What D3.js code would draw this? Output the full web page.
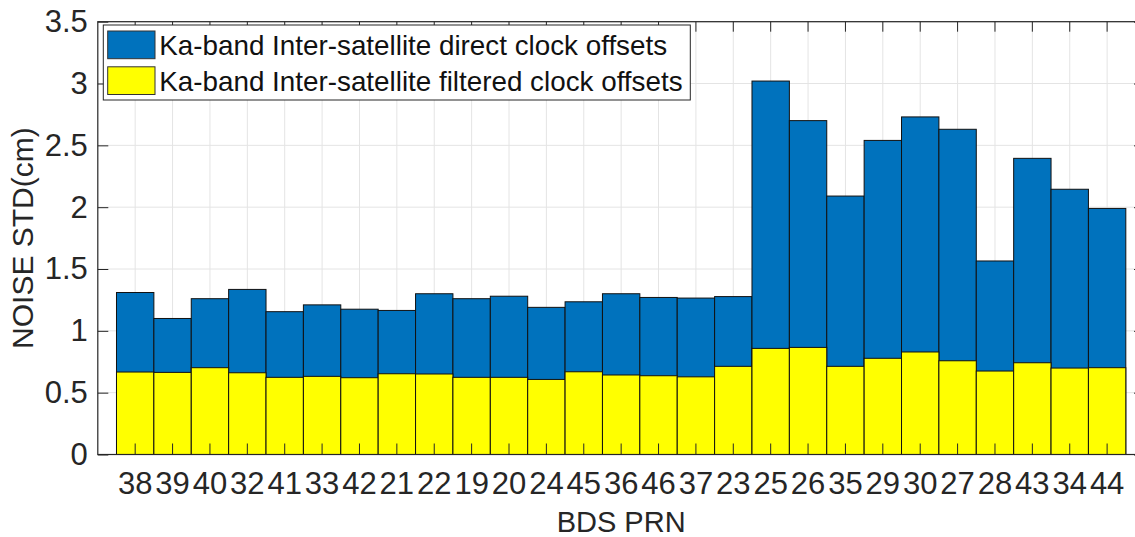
<!DOCTYPE html>
<html>
<head>
<meta charset="utf-8">
<script src="https://cdn.jsdelivr.net/npm/d3@7"></script>
<style>
  html, body { margin: 0; padding: 0; background: #fff; }
  svg { display: block; font-family: "Liberation Sans", Arial, Helvetica, sans-serif; }
</style>
</head>
<body>
<svg id="chart" width="1135" height="537"></svg>
<script>
// BDS satellites (PRN) in plotting order
const prns = ["38","39","40","32","41","33","42","21","22","19","20","24","45","36","46","37","23","25","26","35","29","30","27","28","43","34","44"];

// Noise STD (cm) of direct Ka-band inter-satellite clock offsets
const directStd = [1.31, 1.10, 1.26, 1.335, 1.155, 1.21, 1.175, 1.165, 1.30, 1.26, 1.28, 1.19, 1.235, 1.30, 1.27, 1.265, 1.277, 3.02, 2.70, 2.09, 2.54, 2.73, 2.63, 1.565, 2.395, 2.145, 1.99];

// Noise STD (cm) of filtered Ka-band inter-satellite clock offsets
const filteredStd = [0.667, 0.664, 0.702, 0.661, 0.624, 0.632, 0.621, 0.653, 0.651, 0.624, 0.624, 0.607, 0.669, 0.643, 0.637, 0.628, 0.713, 0.858, 0.866, 0.713, 0.778, 0.829, 0.758, 0.675, 0.742, 0.699, 0.702];

const yTicks = [0, 0.5, 1, 1.5, 2, 2.5, 3, 3.5];

const seriesNames = [
  "Ka-band Inter-satellite direct clock offsets",
  "Ka-band Inter-satellite filtered clock offsets"
];
const seriesColors = ["#0072BD", "#FFFF00"];

const svg = d3.select("#chart");
const plotLeft = 97.8, plotRight = 1144.5, plotTop = 21.7, plotBottom = 454.5;
const unit = (plotRight - plotLeft) / (prns.length + 1);
const axisColor = "#262626";

const x = d3.scaleBand()
  .domain(prns)
  .range([plotLeft + unit / 2, plotRight - unit / 2])
  .padding(0);

const y = d3.scaleLinear().domain([0, 3.5]).range([plotBottom, plotTop]);

// grid
const grid = svg.append("g");
grid.selectAll("line.vg").data(prns).join("line")
  .attr("x1", d => x(d) + x.bandwidth() / 2).attr("x2", d => x(d) + x.bandwidth() / 2)
  .attr("y1", plotTop).attr("y2", plotBottom)
  .attr("stroke", "#e4e4e4").attr("stroke-width", 1);
grid.selectAll("line.hg").data(yTicks).join("line")
  .attr("x1", plotLeft).attr("x2", plotRight)
  .attr("y1", d => y(d)).attr("y2", d => y(d))
  .attr("stroke", "#e4e4e4").attr("stroke-width", 1);

// bars: direct (behind), filtered (front)
[directStd, filteredStd].forEach((vals, k) => {
  svg.append("g").selectAll("rect").data(vals).join("rect")
    .attr("x", (d, i) => x(prns[i]))
    .attr("width", x.bandwidth())
    .attr("y", d => y(d))
    .attr("height", d => y(0) - y(d))
    .attr("fill", seriesColors[k])
    .attr("stroke", "#111")
    .attr("stroke-width", 1);
});

// axes
const fontSize = 31;
const xAxis = d3.axisBottom(x).tickSizeInner(-11).tickSizeOuter(0).tickPadding(17.5);
const gx = svg.append("g").attr("transform", `translate(0,${plotBottom})`).call(xAxis);
const xTop = d3.axisTop(x).tickSizeInner(-10).tickSizeOuter(0).tickFormat("");
const gxt = svg.append("g").attr("transform", `translate(0,${plotTop})`).call(xTop);

const yAxis = d3.axisLeft(y).tickValues(yTicks).tickSizeInner(-10.5).tickSizeOuter(0).tickPadding(10)
  .tickFormat(d3.format("~g"));
const gy = svg.append("g").attr("transform", `translate(${plotLeft},0)`).call(yAxis);
const yRight = d3.axisRight(y).tickValues(yTicks).tickSizeInner(-10.5).tickSizeOuter(0).tickFormat("");
const gyr = svg.append("g").attr("transform", `translate(${plotRight},0)`).call(yRight);

[gx, gxt, gy, gyr].forEach(g => {
  g.select(".domain").remove();
  g.selectAll("line").attr("stroke", axisColor).attr("stroke-width", 1);
  g.selectAll("text").attr("fill", axisColor).style("font-size", fontSize + "px")
    .style("font-family", "'Liberation Sans', Arial, sans-serif");
});

// axes box
svg.append("rect")
  .attr("x", plotLeft).attr("y", plotTop)
  .attr("width", plotRight - plotLeft).attr("height", plotBottom - plotTop)
  .attr("fill", "none").attr("stroke", axisColor).attr("stroke-width", 1.2);

// axis titles
svg.append("text")
  .attr("x", (plotLeft + plotRight) / 2).attr("y", 532)
  .attr("text-anchor", "middle")
  .attr("fill", axisColor)
  .style("font-size", "29px")
  .text("BDS PRN");

svg.append("text")
  .attr("transform", `translate(33,${(plotTop + plotBottom) / 2}) rotate(-90)`)
  .attr("text-anchor", "middle")
  .attr("fill", axisColor)
  .style("font-size", "30px")
  .text("NOISE STD(cm)");

// legend
const lg = svg.append("g");
lg.append("rect")
  .attr("x", 103.3).attr("y", 25).attr("width", 587).attr("height", 75)
  .attr("fill", "#fff").attr("stroke", axisColor).attr("stroke-width", 1);
seriesNames.forEach((name, i) => {
  const cy = 45 + i * 35.8;
  lg.append("rect")
    .attr("x", 107.7).attr("y", cy - 14).attr("width", 47.3).attr("height", 27.7)
    .attr("fill", seriesColors[i]).attr("stroke", "#333").attr("stroke-width", 1);
  lg.append("text")
    .attr("x", 159.3).attr("y", cy).attr("dy", "0.35em")
    .attr("fill", "#111")
    .style("font-size", "27.8px")
    .text(name);
});
</script>
</body>
</html>
